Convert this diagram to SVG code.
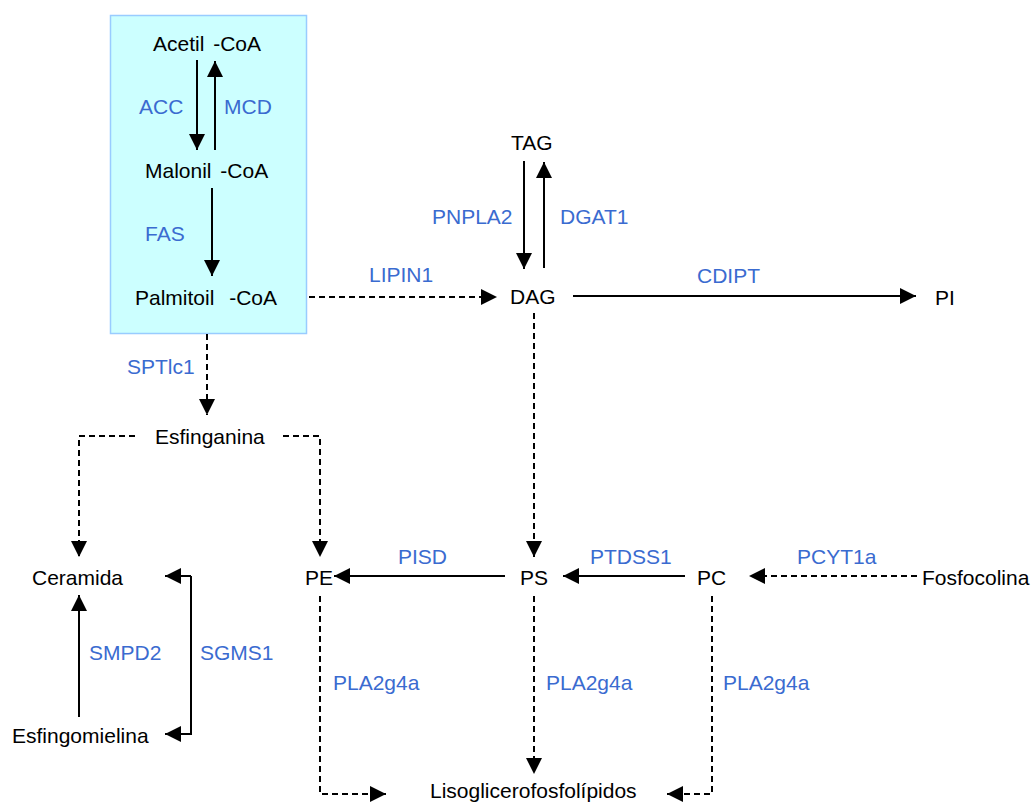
<svg xmlns="http://www.w3.org/2000/svg" width="1031" height="803" viewBox="0 0 1031 803">
  <style>
    text { font-family: "Liberation Sans", Arial, sans-serif; font-size: 21px; fill: #000; }
    text.enz { fill: #3A6BD0; }
    .solid { stroke: #000; stroke-width: 2; fill: none; }
    .dash { stroke: #000; stroke-width: 2; fill: none; stroke-dasharray: 6 4; }
  </style>
  <defs>
    <marker id="ah" markerUnits="userSpaceOnUse" markerWidth="16" markerHeight="16" refX="16" refY="8" orient="auto">
      <path d="M0,0 L16,8 L0,16 z" fill="#000"/>
    </marker>
  </defs>

  <rect x="110.5" y="15.5" width="196" height="318" fill="#CCFFFF" stroke="#99CCFF" stroke-width="1.5"/>

  <g id="connectors">
    <!-- fatty acid synthesis -->
    <line class="solid" x1="197" y1="60" x2="197" y2="150" marker-end="url(#ah)"/>
    <line class="solid" x1="215" y1="150" x2="215" y2="61" marker-end="url(#ah)"/>
    <line class="solid" x1="212" y1="188" x2="212" y2="276" marker-end="url(#ah)"/>
    <!-- glycerolipids -->
    <line class="dash" x1="309" y1="297" x2="497" y2="297" marker-end="url(#ah)"/>
    <line class="solid" x1="524" y1="161" x2="524" y2="269" marker-end="url(#ah)"/>
    <line class="solid" x1="544" y1="268" x2="544" y2="162" marker-end="url(#ah)"/>
    <line class="solid" x1="573" y1="296" x2="916" y2="296" marker-end="url(#ah)"/>
    <line class="dash" x1="534" y1="313" x2="534" y2="557" marker-end="url(#ah)"/>
    <!-- sphingolipids -->
    <line class="dash" x1="207" y1="334" x2="207" y2="415" marker-end="url(#ah)"/>
    <polyline class="dash" points="135,436 79,436 79,557" marker-end="url(#ah)"/>
    <polyline class="dash" points="283,436 320,436 320,557" marker-end="url(#ah)"/>
    <line class="solid" x1="79" y1="717" x2="79" y2="595" marker-end="url(#ah)"/>
    <polyline class="solid" points="191,576 191,734 165,734" marker-end="url(#ah)"/>
    <line class="solid" x1="191" y1="576" x2="165" y2="576" marker-end="url(#ah)"/>
    <!-- phospholipids -->
    <line class="solid" x1="505" y1="576" x2="334" y2="576" marker-end="url(#ah)"/>
    <line class="solid" x1="685" y1="576" x2="563" y2="576" marker-end="url(#ah)"/>
    <line class="dash" x1="917" y1="576" x2="749" y2="576" marker-end="url(#ah)"/>
    <polyline class="dash" points="320,596 320,794 386,794" marker-end="url(#ah)"/>
    <line class="dash" x1="534" y1="596" x2="534" y2="774" marker-end="url(#ah)"/>
    <polyline class="dash" points="712,596 712,794 667,794" marker-end="url(#ah)"/>
  </g>

  <g id="labels">
    <text class="enz" x="139" y="114">ACC</text>
    <text class="enz" x="224" y="114">MCD</text>
    <text class="enz" x="145" y="241">FAS</text>
    <text class="enz" x="432" y="224">PNPLA2</text>
    <text class="enz" x="560" y="224">DGAT1</text>
    <text class="enz" x="369" y="282">LIPIN1</text>
    <text class="enz" x="697" y="283">CDIPT</text>
    <text class="enz" x="127" y="374">SPTlc1</text>
    <text class="enz" x="398" y="564">PISD</text>
    <text class="enz" x="590" y="564">PTDSS1</text>
    <text class="enz" x="797" y="564">PCYT1a</text>
    <text class="enz" x="89" y="660">SMPD2</text>
    <text class="enz" x="200" y="660">SGMS1</text>
    <text class="enz" x="333" y="690">PLA2g4a</text>
    <text class="enz" x="546" y="690">PLA2g4a</text>
    <text class="enz" x="723" y="690">PLA2g4a</text>
  </g>

  <g id="acetil-coa"><text x="153" y="51">Acetil<tspan dx="3"> -CoA</tspan></text></g>
  <g id="malonil-coa"><text x="145" y="178">Malonil<tspan dx="3"> -CoA</tspan></text></g>
  <g id="palmitoil-coa"><text x="135" y="305">Palmitoil<tspan dx="9"> -CoA</tspan></text></g>
  <g id="tag"><text x="511" y="150">TAG</text></g>
  <g id="dag"><text x="510" y="304">DAG</text></g>
  <g id="pi"><text x="935" y="305">PI</text></g>
  <g id="esfinganina"><text x="155" y="444">Esfinganina</text></g>
  <g id="ceramida"><text x="32" y="585">Ceramida</text></g>
  <g id="pe"><text x="305" y="585">PE</text></g>
  <g id="ps"><text x="520" y="585">PS</text></g>
  <g id="pc"><text x="697" y="585">PC</text></g>
  <g id="fosfocolina"><text x="922" y="585">Fosfocolina</text></g>
  <g id="esfingomielina"><text x="12" y="743">Esfingomielina</text></g>
  <g id="lisoglicerofosfolipidos"><text x="430" y="798">Lisoglicerofosfolípidos</text></g>
</svg>
